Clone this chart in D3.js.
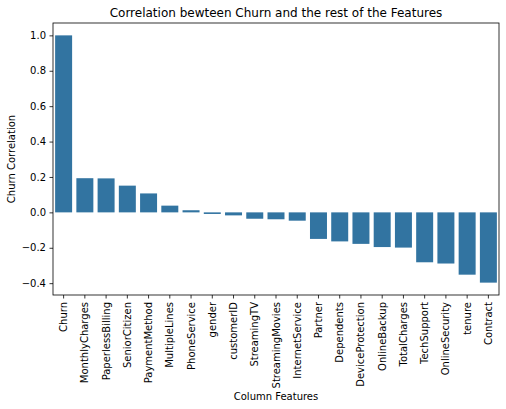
<!DOCTYPE html>
<html>
<head>
<meta charset="utf-8">
<script src="https://cdn.jsdelivr.net/npm/d3@7"></script>
<style>
  body { margin: 0; background: #fff; }
  text { font-family: "DejaVu Sans", sans-serif; fill: #000; }
</style>
</head>
<body>
<script>
var features = ["Churn", "MonthlyCharges", "PaperlessBilling", "SeniorCitizen", "PaymentMethod",
  "MultipleLines", "PhoneService", "gender", "customerID", "StreamingTV", "StreamingMovies",
  "InternetService", "Partner", "Dependents", "DeviceProtection", "OnlineBackup",
  "TotalCharges", "TechSupport", "OnlineSecurity", "tenure", "Contract"];
var correlations = [1.0, 0.193, 0.192, 0.151, 0.107, 0.038, 0.012, -0.009, -0.017, -0.036, -0.039,
  -0.047, -0.150, -0.164, -0.178, -0.196, -0.199, -0.282, -0.289, -0.352, -0.397];
var yTicks = [-0.4, -0.2, 0.0, 0.2, 0.4, 0.6, 0.8, 1.0];

var width = 506, height = 409;
var margin = {top: 23, right: 7, bottom: 114, left: 53};

var svg = d3.select("body").append("svg")
  .attr("width", width)
  .attr("height", height);

var x = d3.scaleBand()
  .domain(features)
  .range([margin.left, width - margin.right])
  .paddingInner(0.2)
  .paddingOuter(0.1);

var yMin = d3.min(correlations), yMax = d3.max(correlations);
var pad = (yMax - yMin) * 0.05;
var y = d3.scaleLinear()
  .domain([yMin - pad, yMax + pad])
  .range([height - margin.bottom, margin.top]);

svg.selectAll("rect.bar")
  .data(features)
  .enter()
  .append("rect")
  .attr("class", "bar")
  .attr("x", function(d) { return x(d); })
  .attr("width", x.bandwidth())
  .attr("y", function(d, i) { return y(Math.max(0, correlations[i])); })
  .attr("height", function(d, i) { return Math.abs(y(correlations[i]) - y(0)); })
  .attr("fill", "#3274a1");

// axes
var xAxis = svg.append("g")
  .attr("transform", "translate(0," + (height - margin.bottom) + ")")
  .call(d3.axisBottom(x).tickSize(3.5).tickPadding(3.5).tickSizeOuter(0));
xAxis.selectAll("text")
  .attr("font-size", 10)
  .attr("transform", "rotate(-90)")
  .attr("text-anchor", "end")
  .attr("x", -7)
  .attr("y", 0)
  .attr("dy", "0.35em");

var yAxis = svg.append("g")
  .attr("transform", "translate(" + margin.left + ",0)")
  .call(d3.axisLeft(y).tickValues(yTicks).tickSize(3.5).tickPadding(3.5).tickSizeOuter(0)
    .tickFormat(function(d) { return d3.format(".1f")(d).replace("-", "\u2212"); }));
yAxis.selectAll("text").attr("font-size", 10);

svg.selectAll(".domain").remove();
svg.selectAll(".tick line").attr("stroke", "#000").attr("stroke-width", 0.8);

// frame
svg.append("rect")
  .attr("x", margin.left)
  .attr("y", margin.top)
  .attr("width", width - margin.left - margin.right)
  .attr("height", height - margin.top - margin.bottom)
  .attr("fill", "none")
  .attr("stroke", "#000")
  .attr("stroke-width", 0.8);

svg.append("text")
  .attr("x", (margin.left + width - margin.right) / 2)
  .attr("y", 17)
  .attr("text-anchor", "middle")
  .attr("font-size", 12)
  .text("Correlation bewteen Churn and the rest of the Features");

svg.append("text")
  .attr("x", (margin.left + width - margin.right) / 2)
  .attr("y", 400)
  .attr("text-anchor", "middle")
  .attr("font-size", 10)
  .text("Column Features");

svg.append("text")
  .attr("transform", "translate(15," + ((margin.top + height - margin.bottom) / 2) + ") rotate(-90)")
  .attr("text-anchor", "middle")
  .attr("font-size", 10)
  .text("Churn Correlation");
</script>
</body>
</html>
